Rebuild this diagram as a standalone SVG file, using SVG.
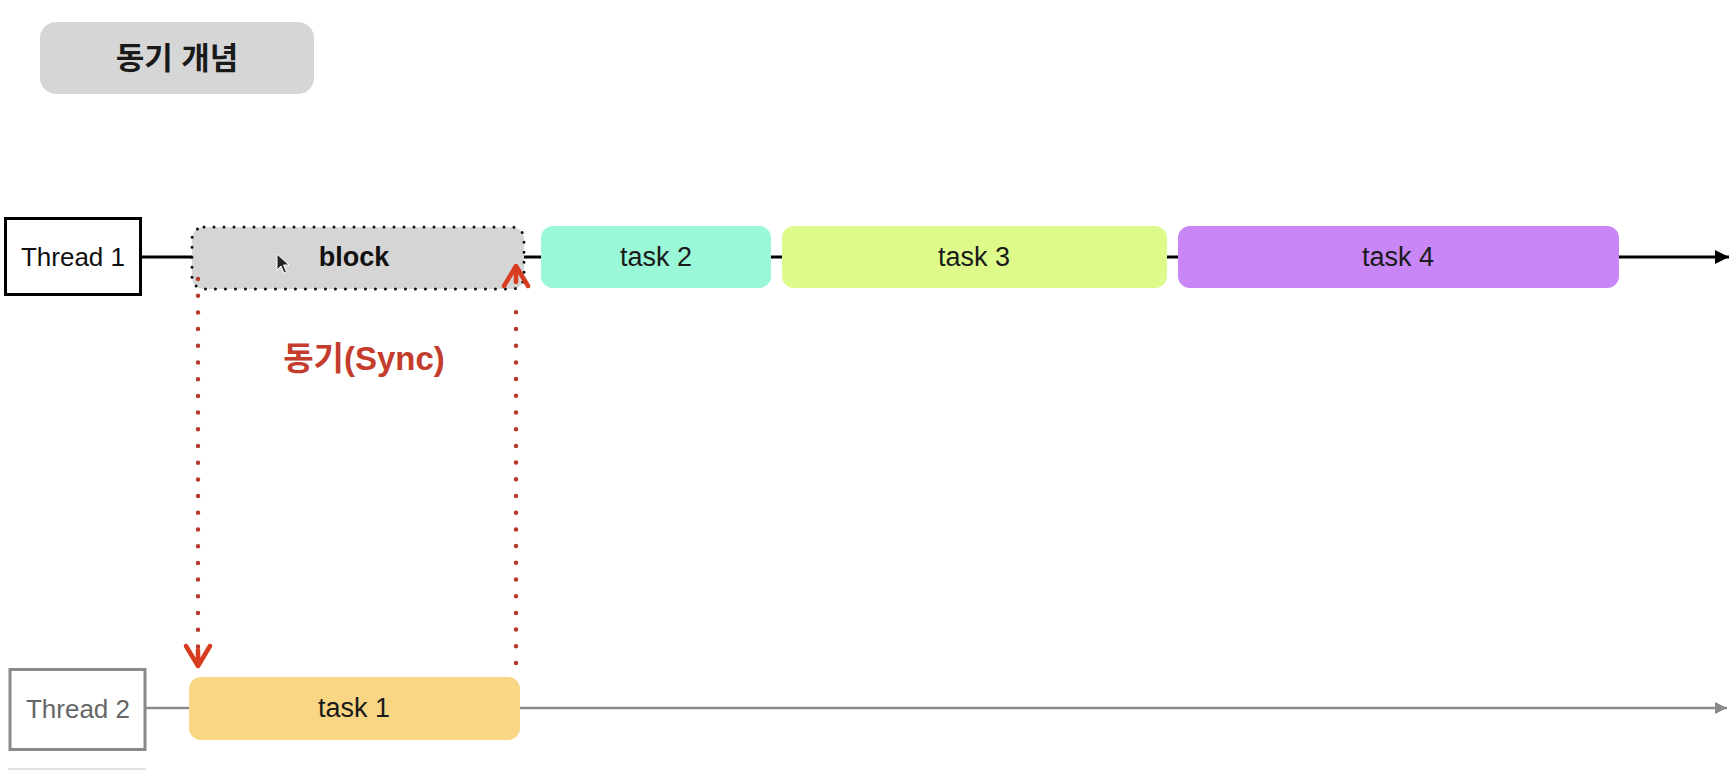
<svg xmlns="http://www.w3.org/2000/svg" width="1734" height="770" viewBox="0 0 1734 770">
<defs>
<style>
.lbl{font-family:"Liberation Sans","Noto Sans CJK KR",sans-serif;text-anchor:middle;dominant-baseline:central;}
.task{font-size:27px;fill:#1a1a1a;}
.thr{fill:#fff;stroke-width:3;}
.t1{stroke:#000;stroke-width:3;}
.t2{stroke:#8a8a8a;stroke-width:2.5;}
.sync{fill:none;stroke:#b83a2c;stroke-width:4.5;stroke-linecap:round;stroke-dasharray:0 16.7;}
.head{fill:none;stroke:#d83c1e;stroke-width:4.5;stroke-linecap:round;stroke-linejoin:round;}
</style>
<marker id="ab" viewBox="0 0 10 10" refX="10" refY="5" markerWidth="16" markerHeight="14" markerUnits="userSpaceOnUse" orient="auto"><path d="M0 0 L10 5 L0 10 z" fill="#000"/></marker>
<marker id="ag" viewBox="0 0 10 10" refX="10" refY="5" markerWidth="14" markerHeight="12" markerUnits="userSpaceOnUse" orient="auto"><path d="M0 0 L10 5 L0 10 z" fill="#8a8a8a"/></marker>
</defs>
<rect width="1734" height="770" fill="#fff"/>

<g id="title">
<rect x="40" y="22" width="274" height="72" rx="16" fill="#d6d6d6"/>
<text class="lbl" x="177" y="58" font-size="31" font-weight="bold" fill="#1a1a1a" font-family="'Noto Sans CJK KR',sans-serif">동기 개념</text>
</g>

<g id="thread1">
<rect class="thr" x="5.5" y="218.5" width="135" height="76" stroke="#000"/>
<text class="lbl" x="73" y="257" font-size="26" fill="#111">Thread 1</text>
</g>

<g id="block">
<rect x="192" y="227" width="332" height="62" rx="12" fill="#d5d5d5" stroke="#111" stroke-width="3" stroke-linecap="round" stroke-dasharray="0 10"/>
<text class="lbl" x="354" y="257" font-size="27" font-weight="bold" fill="#111">block</text>
<path d="M277 254 L277 270 L281 266 L284 273 L286.5 272 L283.5 265 L289 265 Z" fill="#222" stroke="#fff" stroke-width="1"/>
</g>

<g id="task2">
<rect x="541" y="226" width="230" height="62" rx="12" fill="#9af7d7"/>
<text class="lbl task" x="656" y="257">task 2</text>
</g>

<g id="task3">
<rect x="782" y="226" width="385" height="62" rx="12" fill="#defa8b"/>
<text class="lbl task" x="974" y="257">task 3</text>
</g>

<g id="task4">
<rect x="1178" y="226" width="441" height="62" rx="12" fill="#c886f6"/>
<text class="lbl task" x="1398" y="257">task 4</text>
</g>

<g id="sync-label">
<text class="lbl" x="364" y="358" font-size="33" font-weight="bold" fill="#c43d2c">동기(Sync)</text>
</g>

<g id="thread2">
<rect class="thr" x="10" y="669.5" width="135" height="80" stroke="#8a8a8a"/>
<text class="lbl" x="78" y="709" font-size="26" fill="#666">Thread 2</text>
</g>

<g id="task1">
<rect x="189" y="677" width="331" height="63" rx="12" fill="#f8d683"/>
<text class="lbl task" x="354" y="708">task 1</text>
</g>

<g id="connectors">
<line class="t1" x1="142" y1="257" x2="192" y2="257"/>
<line class="t1" x1="524" y1="257" x2="541" y2="257"/>
<line class="t1" x1="771" y1="257" x2="782" y2="257"/>
<line class="t1" x1="1167" y1="257" x2="1178" y2="257"/>
<line class="t1" x1="1619" y1="257" x2="1729" y2="257" marker-end="url(#ab)"/>
<line class="t2" x1="146" y1="708" x2="189" y2="708"/>
<line class="t2" x1="520" y1="708" x2="1727" y2="708" marker-end="url(#ag)"/>
<line x1="8" y1="769" x2="146" y2="769" stroke="#e2e2e2" stroke-width="2"/>
<line class="sync" x1="198" y1="279" x2="198" y2="655"/>
<path class="head" d="M186 646 L198 666 L210 646 M198 650 L198 664"/>
<line class="sync" x1="516" y1="663" x2="516" y2="296"/>
<path class="head" d="M504 286 L516 266 L528 286 M516 282 L516 268"/>
</g>
</svg>
